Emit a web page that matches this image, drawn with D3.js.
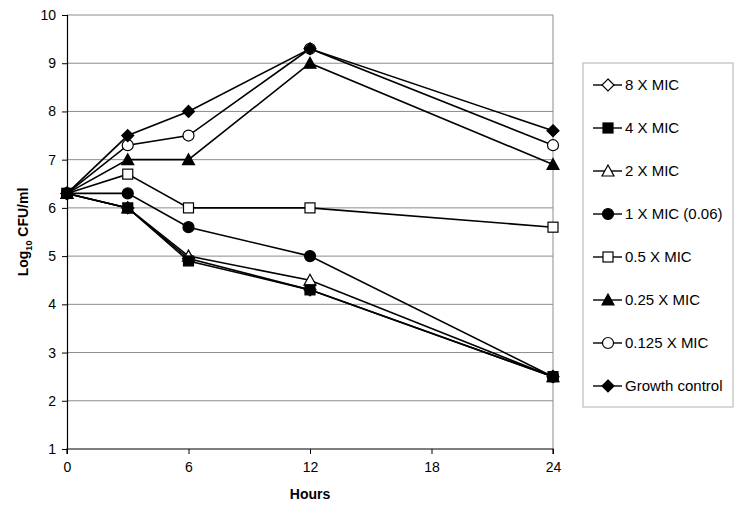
<!DOCTYPE html>
<html lang="en">
<head>
    <meta charset="UTF-8">
    <title>Log10 CFU/ml vs Hours</title>
    <script src="https://cdnjs.cloudflare.com/ajax/libs/d3/7.8.5/d3.min.js"></script>
    <style>
        body { margin: 0; background: #fff; font-family: "Liberation Sans", Arial, sans-serif; }
        svg text { font-family: "Liberation Sans", Arial, sans-serif; fill: #000; }
    </style>
</head>
<body>
    <div id="chart"></div>
    <script>
        // Data
        const hours = [0, 3, 6, 12, 24];
        const seriesNames = ["8 X MIC", "4 X MIC", "2 X MIC", "1 X MIC (0.06)", "0.5 X MIC",
                             "0.25 X MIC", "0.125 X MIC", "Growth control"];
        const mic8 = [6.3, 6.0, 4.95, 4.3, 2.5];
        const mic4 = [6.3, 6.0, 4.9, 4.3, 2.5];
        const mic2 = [6.3, 6.0, 5.0, 4.5, 2.5];
        const mic1 = [6.3, 6.3, 5.6, 5.0, 2.5];
        const mic05 = [6.3, 6.7, 6.0, 6.0, 5.6];
        const mic025 = [6.3, 7.0, 7.0, 9.0, 6.9];
        const mic0125 = [6.3, 7.3, 7.5, 9.3, 7.3];
        const growth = [6.3, 7.5, 8.0, 9.3, 7.6];
        const xTicks = [0, 6, 12, 18, 24];
        const yTicks = [1, 2, 3, 4, 5, 6, 7, 8, 9, 10];

        const series = [
            { name: seriesNames[0], values: mic8, shape: "diamond", filled: false },
            { name: seriesNames[1], values: mic4, shape: "square", filled: true },
            { name: seriesNames[2], values: mic2, shape: "triangle", filled: false },
            { name: seriesNames[3], values: mic1, shape: "circle", filled: true },
            { name: seriesNames[4], values: mic05, shape: "square", filled: false },
            { name: seriesNames[5], values: mic025, shape: "triangle", filled: true },
            { name: seriesNames[6], values: mic0125, shape: "circle", filled: false },
            { name: seriesNames[7], values: growth, shape: "diamond", filled: true }
        ];

        const width = 753, height = 512;
        const margin = { left: 67, right: 200, top: 15, bottom: 63 };

        const svg = d3.select("#chart").append("svg")
            .attr("width", width)
            .attr("height", height);

        const x = d3.scaleLinear().domain([0, 24]).range([margin.left, width - margin.right]);
        const y = d3.scaleLinear().domain([1, 10]).range([height - margin.bottom, margin.top]);

        // gridlines
        svg.append("g").selectAll("line")
            .data(yTicks.slice(1))
            .join("line")
            .attr("x1", x(0)).attr("x2", x(24))
            .attr("y1", d => y(d)).attr("y2", d => y(d))
            .attr("stroke", "#8c8c8c").attr("stroke-width", 1);

        // right border of plot area
        svg.append("line")
            .attr("x1", x(24)).attr("x2", x(24))
            .attr("y1", y(10)).attr("y2", y(1))
            .attr("stroke", "#8c8c8c");

        // axes
        const yAxis = svg.append("g")
            .attr("transform", `translate(${x(0)},0)`)
            .call(d3.axisLeft(y).tickValues(yTicks).tickSize(5).tickPadding(6));
        const xAxis = svg.append("g")
            .attr("transform", `translate(0,${y(1)})`)
            .call(d3.axisBottom(x).tickValues(xTicks).tickSize(5).tickPadding(8));
        [yAxis, xAxis].forEach(a => {
            a.select(".domain").attr("stroke", "#000").attr("stroke-width", 1.2);
            a.selectAll(".tick line").attr("stroke", "#000");
            a.selectAll(".tick text").style("font-size", "14px")
                .style("font-family", "'Liberation Sans', Arial, sans-serif");
        });
        xAxis.select(".domain").attr("d", `M${x(0)},5V0H${x(24)}V5`);

        // axis titles
        svg.append("text")
            .attr("x", (x(0) + x(24)) / 2)
            .attr("y", 499)
            .attr("text-anchor", "middle")
            .style("font-size", "14px").style("font-weight", "bold")
            .text("Hours");

        const yTitle = svg.append("text")
            .attr("transform", `translate(28,${(y(1) + y(10)) / 2}) rotate(-90)`)
            .attr("text-anchor", "middle")
            .style("font-size", "14px").style("font-weight", "bold");
        yTitle.append("tspan").text("Log");
        yTitle.append("tspan").attr("dy", 4).style("font-size", "9px").text("10");
        yTitle.append("tspan").attr("dy", -4).text(" CFU/ml");

        // marker drawing
        function drawMarker(g, shape, filled) {
            const fill = filled ? "#000" : "#fff";
            if (shape === "square") {
                g.append("rect").attr("x", -5).attr("y", -5).attr("width", 10).attr("height", 10)
                    .attr("fill", fill).attr("stroke", "#000").attr("stroke-width", 1.2);
            } else if (shape === "circle") {
                g.append("circle").attr("r", 5.5)
                    .attr("fill", fill).attr("stroke", "#000").attr("stroke-width", 1.2);
            } else if (shape === "triangle") {
                g.append("path").attr("d", "M0,-6L6,5H-6Z")
                    .attr("fill", fill).attr("stroke", "#000").attr("stroke-width", 1.2);
            } else {
                g.append("path").attr("d", "M0,-6L6,0L0,6L-6,0Z")
                    .attr("fill", fill).attr("stroke", "#000").attr("stroke-width", 1.2);
            }
        }

        const line = d3.line().x((d, i) => x(hours[i])).y(d => y(d));

        // lines first, then markers
        svg.append("g").selectAll("path")
            .data(series)
            .join("path")
            .attr("d", d => line(d.values))
            .attr("fill", "none")
            .attr("stroke", "#000")
            .attr("stroke-width", 1.6);

        // the 4 X MIC squares sit on top in the original (visible at 0 h and 24 h)
        const drawOrder = series.filter(s => s.name !== "4 X MIC").concat(series[1]);
        drawOrder.forEach(s => {
            s.values.forEach((v, i) => {
                const g = svg.append("g").attr("transform", `translate(${x(hours[i])},${y(v)})`);
                drawMarker(g, s.shape, s.filled);
            });
        });

        // legend
        const legend = svg.append("g");
        legend.append("rect")
            .attr("x", 583).attr("y", 63).attr("width", 150).attr("height", 344)
            .attr("fill", "#fff").attr("stroke", "#b0b0b0");

        series.forEach((s, i) => {
            const ly = 85 + i * 43;
            const g = legend.append("g").attr("transform", `translate(593,${ly})`);
            g.append("line").attr("x1", 0).attr("x2", 29).attr("stroke", "#000").attr("stroke-width", 1.4);
            const m = g.append("g").attr("transform", "translate(15,0)");
            drawMarker(m, s.shape, s.filled);
            g.append("text").attr("x", 32).attr("y", 5)
                .style("font-size", "15px")
                .text(s.name);
        });
    </script>
</body>
</html>
